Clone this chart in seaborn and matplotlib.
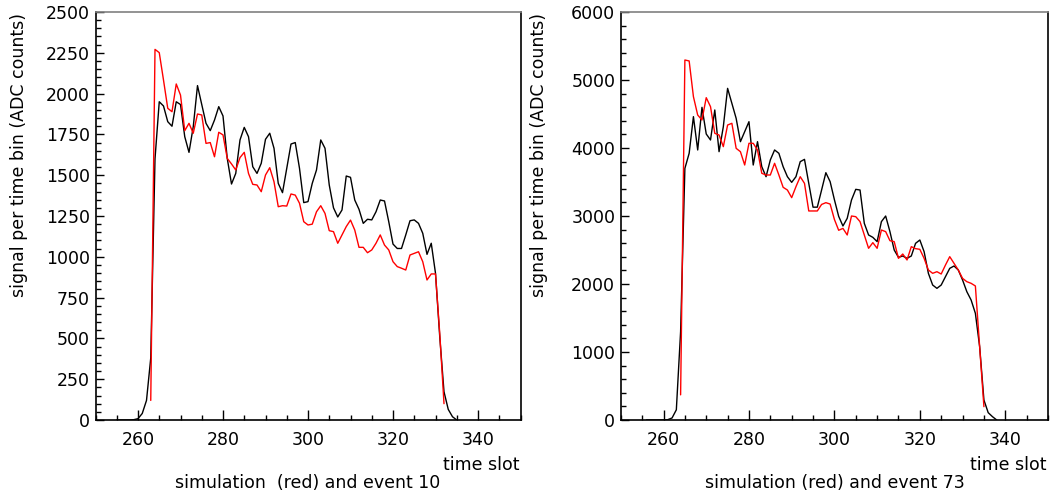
import matplotlib
matplotlib.use("Agg")
import matplotlib.pyplot as plt
import seaborn as sns
import pandas as pd
from matplotlib.ticker import MultipleLocator

# ---------------- data ----------------
# Left panel (event 10)
ev10_slots = list(range(255, 336))
ev10_signal = [0, 0, 0, 0, 2, 8, 40, 120, 380, 1600,
               1950, 1924, 1828, 1800, 1950, 1933, 1736, 1640, 1797, 2049,
               1933, 1818, 1773, 1838, 1920, 1863, 1603, 1446, 1511, 1716,
               1793, 1736, 1552, 1511, 1573, 1720, 1757, 1665, 1450, 1393,
               1542, 1691, 1700, 1542, 1332, 1338, 1450, 1532, 1716, 1665,
               1440, 1300, 1244, 1287, 1495, 1487, 1348, 1291, 1205, 1230,
               1226, 1276, 1348, 1342, 1215, 1078, 1051, 1051, 1134, 1221,
               1226, 1205, 1144, 1015, 1083, 899, 510, 173, 65, 20, 0]
sim10_slots = list(range(263, 333))
sim10_signal = [120, 2271, 2251, 2083, 1910, 1889, 2059, 1991, 1773, 1818,
                1757, 1875, 1869, 1695, 1700, 1613, 1763, 1747, 1603, 1569,
                1532, 1608, 1640, 1511, 1444, 1440, 1399, 1501, 1546, 1460,
                1307, 1313, 1311, 1385, 1378, 1328, 1215, 1195, 1200, 1276,
                1313, 1266, 1160, 1154, 1083, 1134, 1185, 1225, 1164, 1058,
                1058, 1025, 1042, 1083, 1134, 1072, 1042, 970, 940, 930,
                919, 1011, 1021, 1031, 970, 858, 895, 895, 530, 100]

# Right panel (event 73)
ev73_slots = list(range(256, 339))
ev73_signal = [0, 0, 0, 0, 0, 5, 30, 150, 1300, 3700,
               3922, 4461, 3971, 4598, 4206, 4118, 4559, 3946, 4314, 4877,
               4657, 4436, 4093, 4240, 4387, 3750, 4093, 3725, 3578, 3824,
               3971, 3922, 3725, 3578, 3495, 3578, 3799, 3833, 3480, 3130,
               3130, 3382, 3637, 3505, 3240, 2995, 2853, 2966, 3235, 3392,
               3382, 2892, 2721, 2686, 2623, 2917, 3000, 2770, 2500, 2392,
               2412, 2377, 2412, 2598, 2647, 2475, 2157, 1985, 1936, 1985,
               2108, 2230, 2265, 2206, 2059, 1887, 1765, 1569, 1078, 294,
               108, 49, 0]
sim73_slots = list(range(264, 336))
sim73_signal = [370, 5294, 5280, 4755, 4485, 4412, 4740, 4608, 4216, 4191,
                4020, 4338, 4363, 3995, 3946, 3750, 4069, 4069, 3971, 3628,
                3603, 3603, 3775, 3603, 3422, 3382, 3270, 3431, 3578, 3480,
                3074, 3074, 3074, 3170, 3196, 3176, 2950, 2790, 2818, 2721,
                3000, 2990, 2917, 2721, 2525, 2608, 2525, 2794, 2770, 2637,
                2623, 2377, 2441, 2353, 2549, 2520, 2510, 2377, 2206, 2157,
                2181, 2147, 2279, 2402, 2304, 2206, 2083, 2034, 2010, 1971,
                1078, 196]

titles = ["simulation  (red) and event 10", "simulation (red) and event 73"]
ylabel = "signal per time bin (ADC counts)"
xlabel = "time slot"
ylims = [2500, 6000]
ymajor = [250, 1000]
yminor = [50, 200]

# ---------------- plot ----------------
sns.set_style("ticks")
plt.rcParams['font.family'] = ['DejaVu Sans']
plt.rcParams['text.color'] = 'black'
plt.rcParams['xtick.color'] = 'black'
plt.rcParams['ytick.color'] = 'black'
plt.rcParams['xtick.labelcolor'] = 'black'
plt.rcParams['ytick.labelcolor'] = 'black'
FS = 12.5

fig = plt.figure(figsize=(10.5, 4.95), dpi=100)
W, H = 1050, 495
ax_boxes = [(95.5, 520.5), (620.8, 1048.0)]
top_px, bot_px = 12, 420

panels = [(ev10_slots, ev10_signal, sim10_slots, sim10_signal),
          (ev73_slots, ev73_signal, sim73_slots, sim73_signal)]
ylab_x = [19.5, 539]

for i, (x0, x1) in enumerate(ax_boxes):
    ax = fig.add_axes([x0 / W, (H - bot_px) / H, (x1 - x0) / W, (bot_px - top_px) / H])
    es, ev, ss, sv = panels[i]
    df_e = pd.DataFrame({"slot": es, "signal": ev})
    df_s = pd.DataFrame({"slot": ss, "signal": sv})
    sns.lineplot(data=df_e, x="slot", y="signal", color="black", lw=1.0, ax=ax)
    sns.lineplot(data=df_s, x="slot", y="signal", color="#ff0000", lw=1.0, ax=ax)
    ax.set_xlim(250, 350)
    ax.set_ylim(0, ylims[i])
    ax.set_xlabel("")
    ax.set_ylabel("")
    ax.xaxis.set_major_locator(MultipleLocator(20))
    ax.xaxis.set_minor_locator(MultipleLocator(5))
    ax.yaxis.set_major_locator(MultipleLocator(ymajor[i]))
    ax.yaxis.set_minor_locator(MultipleLocator(yminor[i]))
    ax.tick_params(axis="both", which="both", direction="in", top=False, right=False,
                   color="black", labelcolor="black", width=1.0)
    ax.tick_params(axis="x", which="major", length=7, pad=8, labelsize=FS)
    ax.tick_params(axis="y", which="major", length=6, pad=4, labelsize=FS)
    ax.tick_params(axis="both", which="minor", length=3.5)
    for s in ["left", "bottom", "right"]:
        ax.spines[s].set_visible(True)
        ax.spines[s].set_color("black")
        ax.spines[s].set_linewidth(1.2)
    ax.spines["top"].set_visible(True)
    ax.spines["top"].set_color("#808080")
    ax.spines["top"].set_linewidth(1.2)
    ax.set_facecolor("white")

    fig.text(ylab_x[i] / W, 1 - 13 / H, ylabel, rotation=90, ha="center", va="top",
             fontsize=FS, color="black")
    fig.text((x1 - 1) / W, (H - 470) / H, xlabel, ha="right", va="baseline",
             fontsize=FS, color="black")
    fig.text((x0 + x1) / 2 / W, (H - 488) / H, titles[i], ha="center", va="baseline",
             fontsize=FS, color="black")

fig.savefig("out.png", dpi=100, facecolor="white")
